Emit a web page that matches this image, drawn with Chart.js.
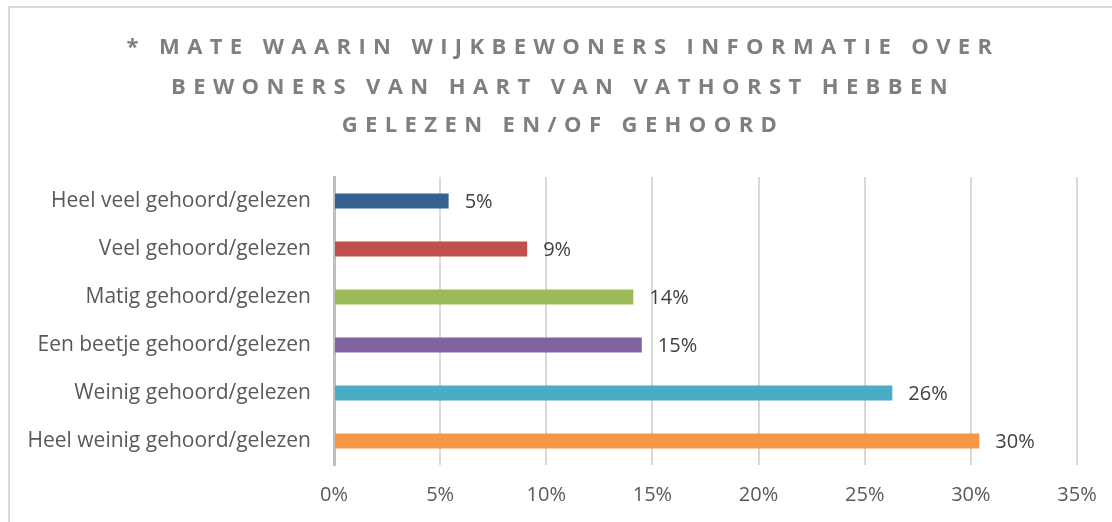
<!DOCTYPE html>
<html>
<head>
<meta charset="utf-8">
<script src="https://cdn.jsdelivr.net/npm/chart.js@4/dist/chart.umd.min.js"></script>
<style>
  html, body { margin: 0; padding: 0; background: #ffffff; overflow: hidden; }
  #wrap { position: relative; width: 1112px; height: 522px; }
  #frame { position: absolute; left: 8px; top: 6px; width: 2000px; height: 2000px;
           border-top: 2px solid #d9d9d9; border-left: 2px solid #d9d9d9; pointer-events: none; }
  canvas { position: absolute; left: 0; top: 0; }
</style>
</head>
<body>
<div id="wrap">
  <canvas id="c" width="1112" height="522"></canvas>
  <div id="frame"></div>
</div>
<script>
const titleLines = [
  "* MATE WAARIN WIJKBEWONERS INFORMATIE OVER",
  "BEWONERS VAN HART VAN VATHORST HEBBEN",
  "GELEZEN EN/OF GEHOORD"
];
const categories = [
  "Heel veel gehoord/gelezen",
  "Veel gehoord/gelezen",
  "Matig gehoord/gelezen",
  "Een beetje gehoord/gelezen",
  "Weinig gehoord/gelezen",
  "Heel weinig gehoord/gelezen"
];
const values = [5.4, 9.1, 14.1, 14.5, 26.3, 30.4];
const barColors = ["#366092", "#C0504D", "#9BBB59", "#8064A2", "#4BACC6", "#F79646"];
const xTicks = { min: 0, max: 35, step: 5 };

const FONT = "'Open Sans', Lato, sans-serif";

const titlePlugin = {
  id: 'spacedTitle',
  afterDraw(chart) {
    const ctx = chart.ctx;
    ctx.save();
    ctx.font = "bold 22px " + FONT;
    ctx.fillStyle = "#7f7f7f";
    ctx.textAlign = "center";
    ctx.textBaseline = "middle";
    ctx.letterSpacing = "7.4px";
    const cx = 563;
    const ys = [48, 88, 126];
    titleLines.forEach((t, i) => ctx.fillText(t, cx, ys[i]));
    ctx.restore();
  }
};

const valueLabels = {
  id: 'valueLabels',
  afterDatasetsDraw(chart) {
    const ctx = chart.ctx;
    const meta = chart.getDatasetMeta(0);
    ctx.save();
    ctx.font = "20px " + FONT;
    ctx.fillStyle = "#404040";
    ctx.textAlign = "left";
    ctx.textBaseline = "middle";
    meta.data.forEach((bar, i) => {
      ctx.fillText(Math.round(values[i]) + "%", bar.x + 16, bar.y + 1);
    });
    ctx.restore();
  }
};

new Chart(document.getElementById('c'), {
  type: 'bar',
  data: {
    labels: categories,
    datasets: [{
      data: values,
      backgroundColor: barColors,
      borderWidth: 0,
      categoryPercentage: 1,
      barPercentage: 0.3125
    }]
  },
  options: {
    indexAxis: 'y',
    responsive: false,
    animation: false,
    devicePixelRatio: 1,
    layout: { padding: { top: 177, right: 35, bottom: 0, left: 0 } },
    plugins: { legend: { display: false }, tooltip: { enabled: false }, title: { display: false } },
    scales: {
      x: {
        min: xTicks.min, max: xTicks.max,
        ticks: {
          stepSize: xTicks.step,
          color: "#595959",
          font: { family: FONT, size: 20 },
          padding: 18,
          callback: v => v + "%"
        },
        grid: { color: "#d9d9d9", lineWidth: 2, drawTicks: false },
        border: { display: false },
        afterFit(s) { s.height = 57; s.paddingLeft = 0; s.paddingRight = 0; }
      },
      y: {
        ticks: {
          color: "#595959",
          font: { family: FONT, size: 21 },
          padding: 15
        },
        grid: { display: false },
        border: { display: true, color: "#bfbfbf", width: 3 },
        afterFit(s) { s.width = 334; }
      }
    }
  },
  plugins: [titlePlugin, valueLabels]
});
</script>
</body>
</html>
